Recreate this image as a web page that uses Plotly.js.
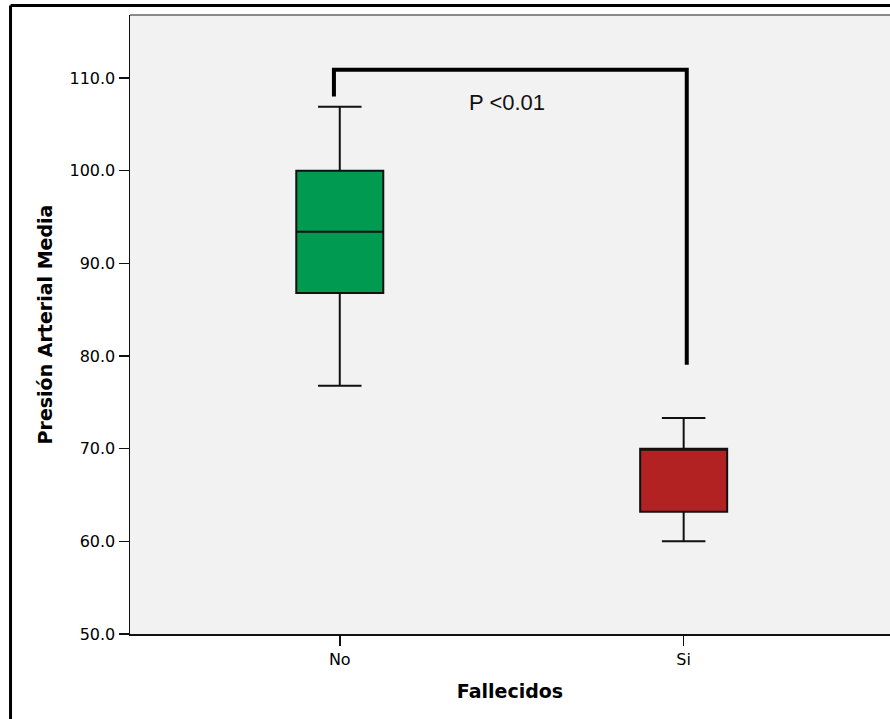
<!DOCTYPE html>
<html>
<head>
<meta charset="utf-8">
<script src="https://cdn.plot.ly/plotly-3.0.1.min.js"></script>
<style>html,body{margin:0;padding:0;background:#fff;}#chart{width:890px;height:719px;}</style>
</head>
<body>
<div id="chart"></div>
<script>
// Data
var categories = ['No', 'Si'];
var q1Values = [86.8, 63.2];
var medianValues = [93.4, 70.0];
var q3Values = [100.0, 70.0];
var lowerWhisker = [76.8, 60.0];
var upperWhisker = [106.9, 73.3];
var boxColors = ['#009A50', '#B22222'];
var yTickValues = [50, 60, 70, 80, 90, 100, 110];
var yTickLabels = ['50.0', '60.0', '70.0', '80.0', '90.0', '100.0', '110.0'];
// Significance bracket (category index, value)
var bracketX = [-0.017, 1.009];
var bracketY = [108.0, 110.9, 79.05];
var pText = 'P <0.01';

var traces = categories.map(function (c, i) {
  return {
    type: 'box',
    x: [c],
    q1: [q1Values[i]],
    median: [medianValues[i]],
    q3: [q3Values[i]],
    lowerfence: [lowerWhisker[i]],
    upperfence: [upperWhisker[i]],
    fillcolor: boxColors[i],
    line: {color: '#111', width: 2},
    width: 0.253,
    whiskerwidth: 0.5,
    boxpoints: false,
    hoverinfo: 'skip',
    showlegend: false
  };
});

var path = 'M ' + bracketX[0] + ',' + bracketY[0] +
           ' L ' + bracketX[0] + ',' + bracketY[1] +
           ' L ' + bracketX[1] + ',' + bracketY[1] +
           ' L ' + bracketX[1] + ',' + bracketY[2];

var layout = {
  width: 890, height: 719,
  margin: {l: 130, r: 0, t: 15, b: 85, pad: 0},
  paper_bgcolor: '#ffffff',
  plot_bgcolor: '#F2F2F2',
  font: {family: 'DejaVu Sans, Verdana, sans-serif', color: '#000'},
  xaxis: {
    type: 'category',
    categoryorder: 'array', categoryarray: categories,
    range: [-0.61, 1.6],
    showgrid: false, zeroline: false,
    showline: true, linecolor: '#111', linewidth: 2,
    ticks: 'outside', ticklen: 10, tickwidth: 1.5, tickcolor: '#111',
    tickfont: {size: 16, color: '#000'},
    title: {text: '<b>Fallecidos</b>', font: {size: 19, color: '#000'}, standoff: 16}
  },
  yaxis: {
    range: [50, 116.8],
    tickmode: 'array', tickvals: yTickValues, ticktext: yTickLabels,
    showgrid: false, zeroline: false,
    showline: true, linecolor: '#111', linewidth: 1.5,
    ticks: 'outside', ticklen: 10, tickwidth: 1.5, tickcolor: '#111',
    tickfont: {size: 16, color: '#000'},
    title: {text: '<b>Presión Arterial Media</b>', font: {size: 19, color: '#000'}, standoff: 12}
  },
  shapes: [
    {type: 'path', xref: 'x', yref: 'y', path: path, line: {color: '#000', width: 4}},
    {type: 'line', xref: 'paper', yref: 'paper', x0: 0, x1: 1, y0: 1, y1: 1, line: {color: '#666', width: 1.5}},
    {type: 'line', xref: 'paper', yref: 'paper', x0: -0.1572, x1: -0.1572, y0: -0.2, y1: 1.0153, line: {color: '#000', width: 3}},
    {type: 'line', xref: 'paper', yref: 'paper', x0: -0.1572, x1: 1.01, y0: 1.0153, y1: 1.0153, line: {color: '#000', width: 3}}
  ],
  annotations: [
    {x: 0.485, y: 107.35, xref: 'x', yref: 'y', text: pText, showarrow: false,
     font: {family: 'Liberation Sans, Arial, sans-serif', size: 22, color: '#111'}}
  ]
};

Plotly.newPlot('chart', traces, layout, {displayModeBar: false, staticPlot: true});
</script>
</body>
</html>
